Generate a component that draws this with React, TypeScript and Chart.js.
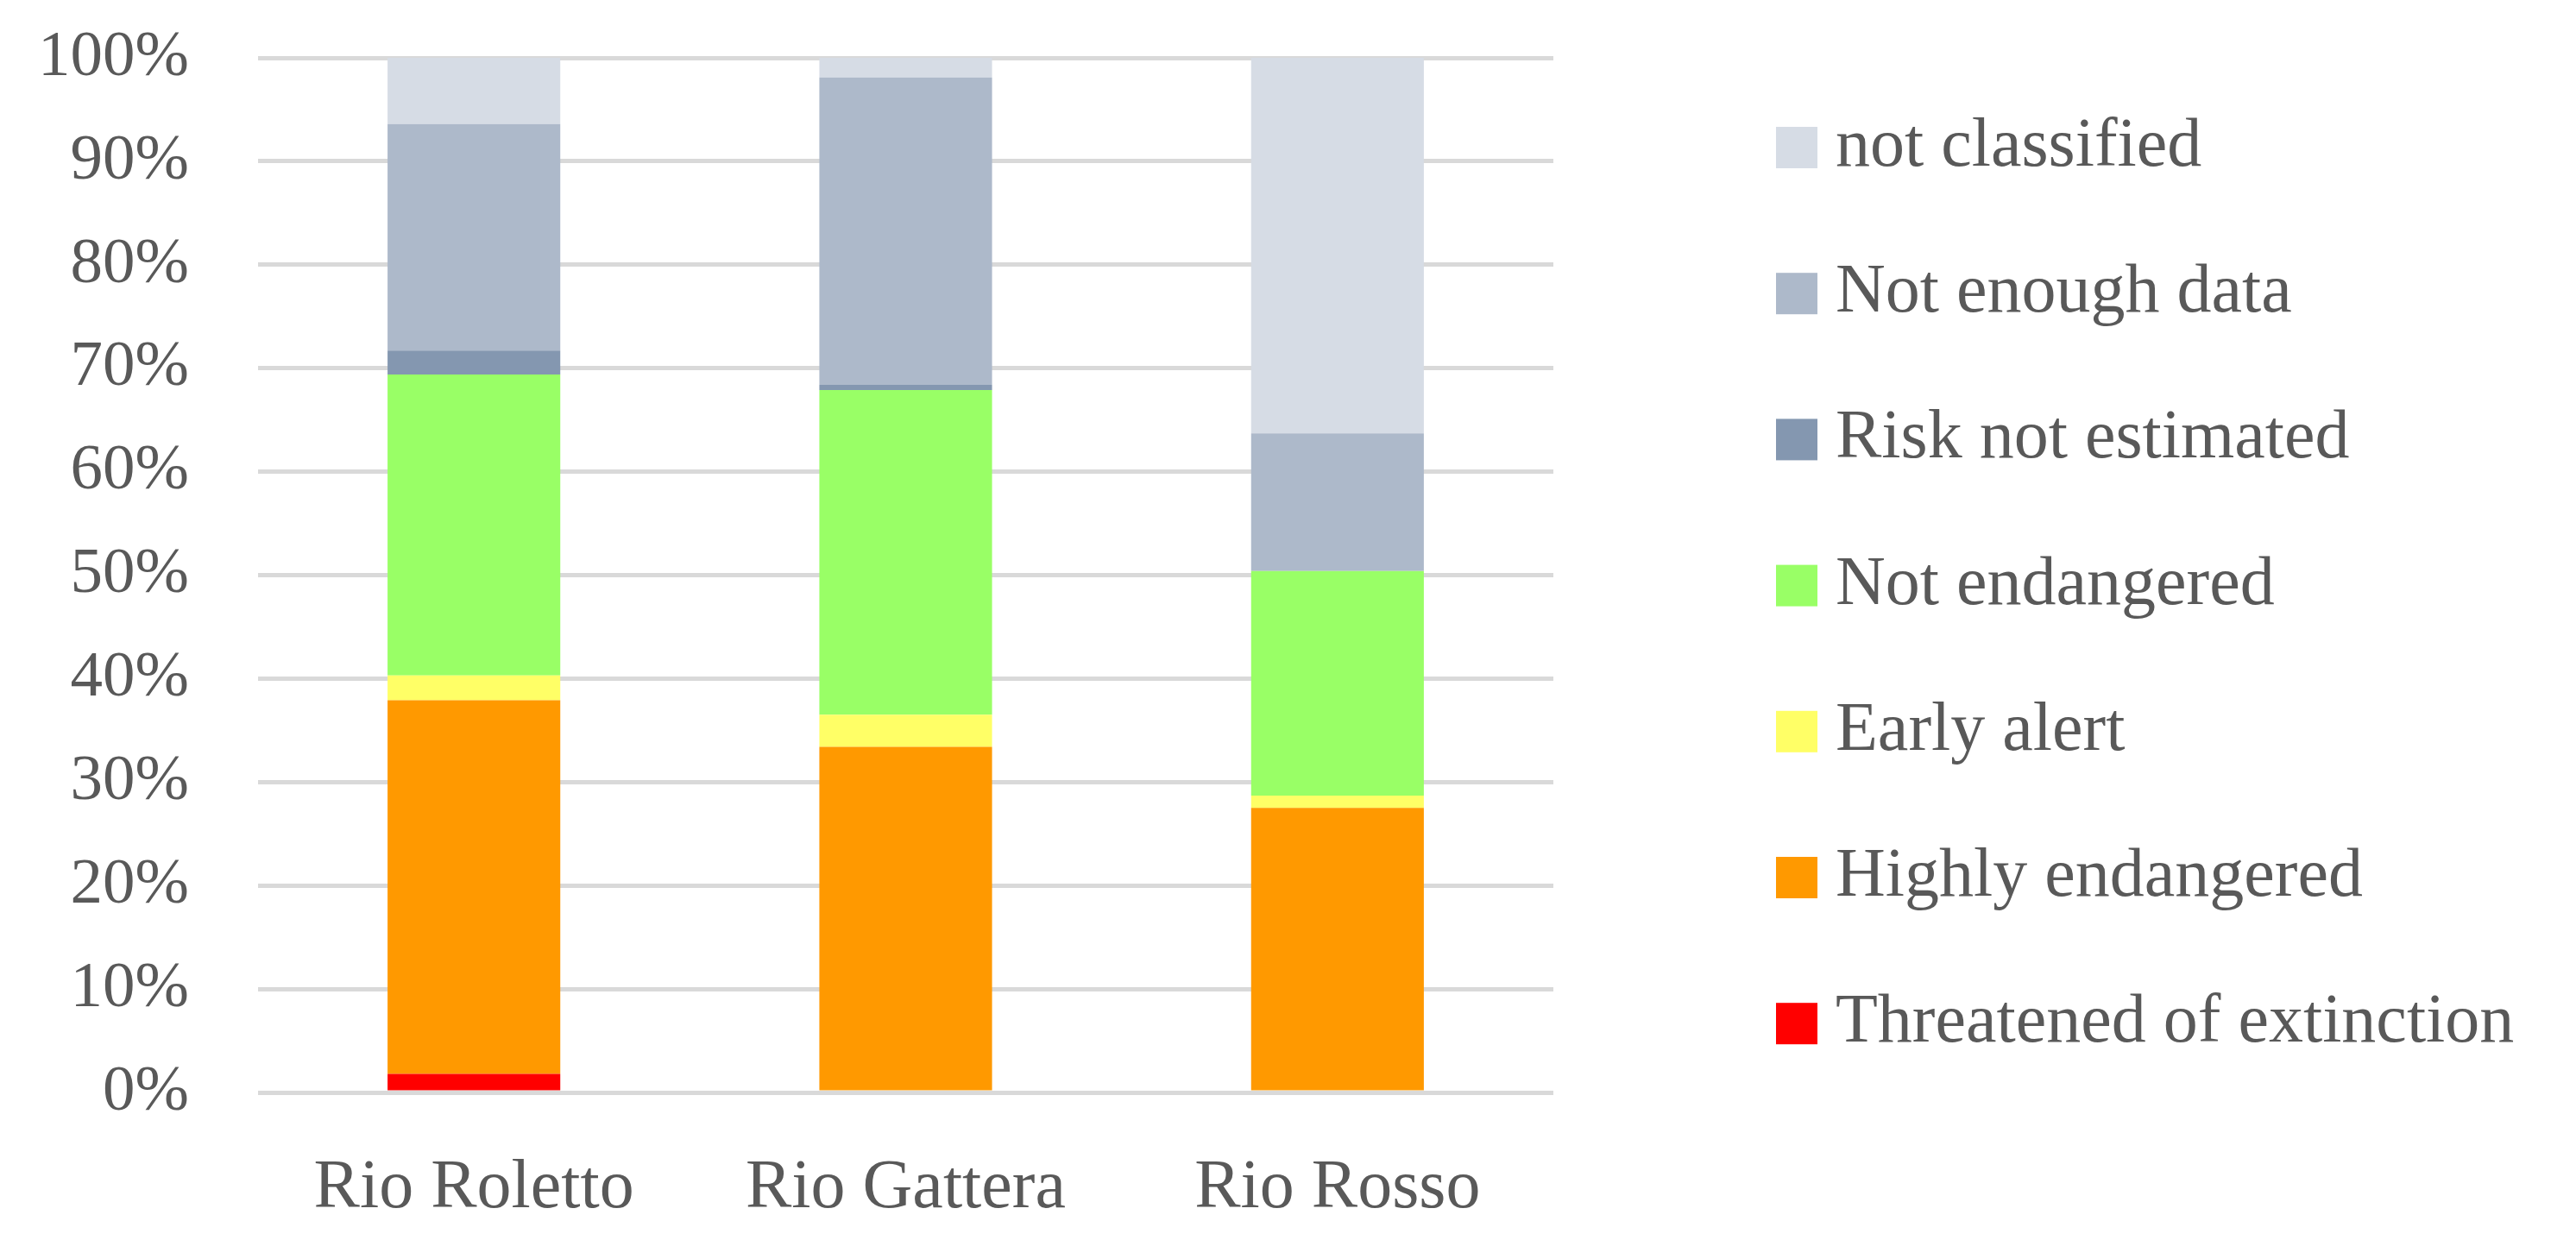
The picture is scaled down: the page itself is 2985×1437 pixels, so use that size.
import React, { useEffect, useRef } from 'react';
import { Chart, registerables } from 'chart.js';

Chart.register(...registerables);

// ---- data ----
const categories = ['Rio Roletto', 'Rio Gattera', 'Rio Rosso'];
const threatened = [1.8, 0, 0];
const highlyEndangered = [36.1, 33.4, 27.5];
const earlyAlert = [2.4, 3.1, 1.2];
const notEndangered = [29.1, 31.4, 21.7];
const riskNotEstimated = [2.3, 0.5, 0];
const notEnoughData = [21.9, 29.7, 13.3];
const notClassified = [6.4, 1.9, 36.3];

const seriesLabels = [
  'Threatened of extinction',
  'Highly endangered',
  'Early alert',
  'Not endangered',
  'Risk not estimated',
  'Not enough data',
  'not classified',
];
const seriesValues = [
  threatened,
  highlyEndangered,
  earlyAlert,
  notEndangered,
  riskNotEstimated,
  notEnoughData,
  notClassified,
];
const seriesColors = ['#FF0000', '#FF9900', '#FFFF66', '#99FF66', '#8497B0', '#ADB9CA', '#D6DCE5'];

const yMin = 0;
const yMax = 100;
const yStep = 10;

// ---- layout / style ----
const W = 2985;
const H = 1437;
const FONT = '"Liberation Serif", "Times New Roman", serif';
const TEXT_COLOR = '#595959';
const GRID_COLOR = '#D9D9D9';
const LEGEND_BOX_X = 2058;
const LEGEND_BOX = 48;
const LEGEND_TEXT_X = 2127;
const LEGEND_FIRST_Y = 171;
const LEGEND_STEP = 169.2;
const LEGEND_FONT_SIZE = 80;

const sideLegend = {
  id: 'sideLegend',
  afterDraw(chart: any) {
    const ctx = chart.ctx;
    const ds = chart.data.datasets;
    ctx.save();
    ctx.font = `${LEGEND_FONT_SIZE}px ${FONT}`;
    ctx.textBaseline = 'middle';
    ctx.textAlign = 'left';
    for (let k = 0; k < ds.length; k++) {
      const d = ds[ds.length - 1 - k];
      const cy = LEGEND_FIRST_Y + k * LEGEND_STEP;
      ctx.fillStyle = d.backgroundColor;
      ctx.fillRect(LEGEND_BOX_X, cy - LEGEND_BOX / 2, LEGEND_BOX, LEGEND_BOX);
      ctx.fillStyle = TEXT_COLOR;
      ctx.fillText(d.label, LEGEND_TEXT_X, cy);
    }
    ctx.restore();
  },
};

export default function App() {
  const ref = useRef<HTMLCanvasElement | null>(null);

  useEffect(() => {
    if (!ref.current) return;
    const chart = new Chart(ref.current, {
      type: 'bar',
      data: {
        labels: categories,
        datasets: seriesLabels.map((label, i) => ({
          label,
          data: seriesValues[i],
          backgroundColor: seriesColors[i],
          borderWidth: 0,
          categoryPercentage: 1,
          barPercentage: 0.4,
        })),
      },
      options: {
        responsive: false,
        animation: false,
        layout: { padding: { left: 0, right: W - 1800, top: 67, bottom: 0 } },
        plugins: {
          legend: { display: false },
          tooltip: { enabled: false },
          title: { display: false },
        },
        scales: {
          x: {
            stacked: true,
            grid: { display: false, drawTicks: false },
            border: { display: false },
            ticks: {
              color: TEXT_COLOR,
              font: { family: FONT, size: 80 },
              padding: 64,
              maxRotation: 0,
            },
            afterFit: (scale: any) => {
              scale.height = 171;
              scale.paddingLeft = 0;
              scale.paddingRight = 0;
            },
          },
          y: {
            stacked: true,
            min: yMin,
            max: yMax,
            grid: { color: GRID_COLOR, lineWidth: 5, drawTicks: false },
            border: { display: false },
            ticks: {
              stepSize: yStep,
              color: TEXT_COLOR,
              font: { family: FONT, size: 75 },
              padding: 80,
              callback: (v: any) => `${v}%`,
            },
            afterFit: (scale: any) => {
              scale.width = 299;
              scale.paddingTop = 0;
              scale.paddingBottom = 0;
            },
          },
        },
      },
      plugins: [sideLegend],
    });
    return () => chart.destroy();
  }, []);

  return (
    <canvas
      ref={ref}
      width={W}
      height={H}
      style={{ position: 'fixed', left: 0, top: 0, width: W, height: H, display: 'block', background: '#fff' }}
    />
  );
}
